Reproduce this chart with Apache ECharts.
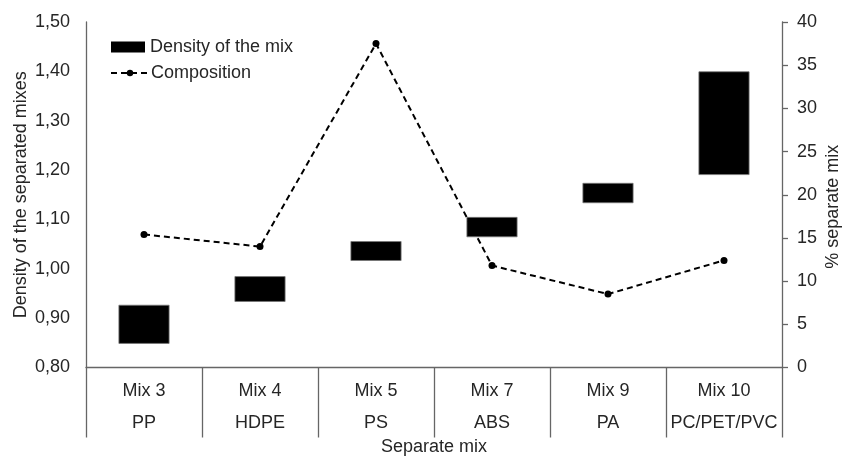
<!DOCTYPE html>
<html>
<head>
<meta charset="utf-8">
<script src="https://cdn.jsdelivr.net/npm/echarts@6/dist/echarts.min.js"></script>
<style>html,body{margin:0;padding:0;background:#fff}#c{width:843px;height:456px}</style>
</head>
<body>
<div id="c"></div>
<script>
const mixNames = ['Mix 3', 'Mix 4', 'Mix 5', 'Mix 7', 'Mix 9', 'Mix 10'];
const polymers = ['PP', 'HDPE', 'PS', 'ABS', 'PA', 'PC/PET/PVC'];
const densityLow = [0.848, 0.933, 1.016, 1.064, 1.133, 1.19];
const densityHigh = [0.927, 0.985, 1.056, 1.105, 1.174, 1.40];
const composition = [15.4, 14.0, 37.5, 11.8, 8.5, 12.4];
const densityTicks = [0.8, 0.9, 1.0, 1.1, 1.2, 1.3, 1.4, 1.5];
const compositionTicks = [0, 5, 10, 15, 20, 25, 30, 35, 40];

const categories = mixNames.map((m, i) => m + '\n' + polymers[i]);
const densityRange = densityHigh.map((h, i) => +(h - densityLow[i]).toFixed(4));

const FONT = 'Liberation Sans, Arial, sans-serif';
const TXT = '#262626';
const AX = '#666';

const chart = echarts.init(document.getElementById('c'), null, {renderer: 'canvas'});
chart.setOption({
  animation: false,
  backgroundColor: '#fff',
  textStyle: {fontFamily: FONT, color: TXT},
  grid: {left: 86, right: 61, top: 22, bottom: 88.5, containLabel: false, outerBoundsMode: 'none'},
  legend: [
    {
      data: [{name: 'Density of the mix', icon: 'rect'}],
      left: 111, top: 38, padding: 0, itemWidth: 34, itemHeight: 11, itemGap: 6,
      itemStyle: {color: '#000', borderWidth: 0},
      textStyle: {fontFamily: FONT, fontSize: 18, color: TXT},
      selectedMode: false
    },
    {
      data: ['Composition'],
      left: 110, top: 64, padding: 0, itemWidth: 38, itemHeight: 8,
      textStyle: {fontFamily: FONT, fontSize: 18, color: TXT, padding: [0, 0, 0, -3]},
      selectedMode: false
    }
  ],
  xAxis: {
    type: 'category',
    data: categories,
    name: 'Separate mix',
    nameLocation: 'middle',
    nameGap: 71,
    nameMoveOverlap: false,
    nameTextStyle: {fontFamily: FONT, fontSize: 18, color: TXT},
    axisLine: {lineStyle: {color: AX, width: 1.3}},
    axisTick: {show: true, interval: 0, length: 70, lineStyle: {color: AX, width: 1.3}},
    axisLabel: {interval: 0, fontFamily: FONT, fontSize: 18, color: TXT, lineHeight: 32, margin: 8}
  },
  yAxis: [
    {
      type: 'value', min: 0.8, max: 1.5, interval: 0.1,
      name: 'Density of the separated mixes',
      nameLocation: 'middle', nameRotate: 90, nameGap: 56,
      nameMoveOverlap: false,
      nameTextStyle: {fontFamily: FONT, fontSize: 18, color: TXT},
      axisLine: {show: true, lineStyle: {color: AX, width: 1.3}},
      axisTick: {show: false},
      splitLine: {show: false},
      axisLabel: {
        fontFamily: FONT, fontSize: 18, color: TXT, margin: 16,
        formatter: v => {
          const t = densityTicks.find(d => Math.abs(d - v) < 1e-6);
          return (t !== undefined ? t : v).toFixed(2).replace('.', ',');
        }
      }
    },
    {
      type: 'value', min: 0, max: 40, interval: 5,
      name: '% separate mix',
      nameLocation: 'middle', nameRotate: 90, nameGap: 42,
      nameMoveOverlap: false,
      nameTextStyle: {fontFamily: FONT, fontSize: 18, color: TXT, padding: [0, 24, 0, 0]},
      axisLine: {show: true, lineStyle: {color: AX, width: 1.3}},
      axisTick: {show: true, length: 6, lineStyle: {color: AX, width: 1.3}},
      splitLine: {show: false},
      axisLabel: {
        fontFamily: FONT, fontSize: 18, color: TXT, margin: 15,
        formatter: v => String(compositionTicks.find(d => d === v) ?? v)
      }
    }
  ],
  series: [
    {
      name: 'base', type: 'bar', stack: 'd', yAxisIndex: 0,
      data: densityLow, barWidth: 51,
      itemStyle: {color: 'rgba(0,0,0,0)'},
      emphasis: {disabled: true}, silent: true
    },
    {
      name: 'Density of the mix', type: 'bar', stack: 'd', yAxisIndex: 0,
      data: densityRange, barWidth: 51,
      itemStyle: {color: '#000', borderColor: '#777', borderWidth: 0.8}
    },
    {
      name: 'Composition', type: 'line', yAxisIndex: 1,
      data: composition,
      symbol: 'circle', symbolSize: 7,
      itemStyle: {color: '#000'},
      lineStyle: {color: '#000', width: 2, type: [6, 4]},
      z: 5
    }
  ]
});
</script>
</body>
</html>
